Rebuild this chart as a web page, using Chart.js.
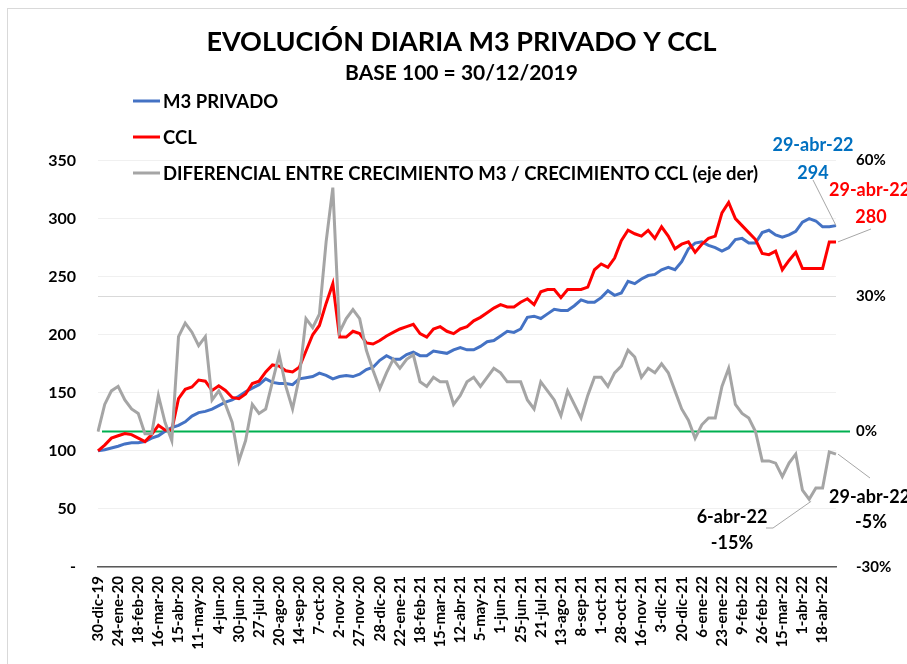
<!DOCTYPE html>
<html lang="es">
<head>
<meta charset="utf-8">
<title>Evolución diaria M3 privado y CCL</title>
<script src="https://cdn.jsdelivr.net/npm/chart.js@4.4.1/dist/chart.umd.min.js"></script>
<style>
    html, body { margin: 0; padding: 0; background: #ffffff; }
    #contenedor { position: relative; width: 907px; height: 664px; }
</style>
</head>
<body>
<div id="contenedor"><canvas id="graficoM3Ccl"></canvas></div>
<script>
// Fechas que se muestran en el eje X (una cada 3 puntos)
const fechasEje = [
    '30-dic-19', '24-ene-20', '18-feb-20', '16-mar-20', '15-abr-20', '11-may-20',
    '4-jun-20', '30-jun-20', '27-jul-20', '20-ago-20', '14-sep-20', '7-oct-20',
    '2-nov-20', '27-nov-20', '28-dic-20', '22-ene-21', '18-feb-21', '15-mar-21',
    '12-abr-21', '5-may-21', '1-jun-21', '25-jun-21', '21-jul-21', '13-ago-21',
    '8-sep-21', '1-oct-21', '28-oct-21', '16-nov-21', '3-dic-21', '20-dic-21',
    '6-ene-22', '23-ene-22', '9-feb-22', '26-feb-22', '15-mar-22', '1-abr-22',
    '18-abr-22'
];
const fechaFinal = '29-abr-22';
const fechaMinimo = '6-abr-22';

// Base 100 = 30/12/2019
const m3Privado = [
    100, 101, 102.5, 104, 106, 107, 107, 108, 111, 113,
    117, 120, 122, 125, 130, 133, 134, 136, 139, 142,
    144, 147, 151, 154, 157, 162, 159, 158, 158, 157,
    162, 163, 164, 167, 165, 162, 164, 165, 164, 166,
    170, 172, 178, 182, 179, 179, 183, 185, 182, 182,
    186, 185, 184, 187, 189, 187, 187, 190, 194, 195,
    199, 203, 202, 205, 215, 216, 214, 218, 222, 221,
    221, 225, 230, 228, 228, 232, 238, 234, 236, 246,
    244, 248, 251, 252, 256, 258, 256, 263, 274, 279,
    280, 277, 275, 272, 275, 282, 283, 279, 279, 288,
    290, 286, 284, 286, 289, 297, 300, 298, 293, 293,
    294
];

const ccl = [
    100, 105, 111, 113, 115, 114, 111, 108, 114, 122,
    118, 118, 145, 153, 155, 161, 160, 152, 156, 152,
    146, 145, 149, 158, 160, 168, 174, 173, 169, 168,
    172, 186, 200, 208, 227, 244, 198, 198, 203, 201,
    193, 192, 195, 199, 202, 205, 207, 209, 201, 198,
    205, 207, 203, 201, 205, 207, 212, 215, 219, 223,
    226, 224, 224, 228, 231, 226, 237, 239, 239, 232,
    239, 239, 239, 241, 256, 261, 258, 266, 281, 290,
    287, 285, 290, 283, 293, 285, 274, 278, 280, 271,
    278, 283, 285, 305, 314, 300, 294, 288, 282, 270,
    269, 272, 256, 264, 271, 257, 257, 257, 257, 280,
    280
];

// Diferencial (%), eje derecho
const diferencial = [
    0, 6, 9, 10, 7, 5, 4, -0.5, -0.5, 8,
    2, -2, 21, 24, 22, 19, 21, 7, 9, 6,
    2, -6.5, -2, 6, 4, 5, 11, 17, 10, 5,
    12, 25, 23, 26, 42, 54, 22, 25, 27, 25,
    18, 13.5, 9.5, 13, 16, 14, 16, 17, 11, 10,
    12, 11, 11, 6, 8, 11, 12, 10, 12, 14,
    13, 11, 11, 11, 7, 5, 11, 9, 7, 3.5,
    9, 6, 3, 8, 12, 12, 10, 13, 14.5, 18,
    16.5, 12, 14, 13, 15, 13, 9, 5, 2.5, -1.5,
    1.5, 3, 3, 10, 14, 6, 4, 3, 0, -6.5,
    -6.5, -7, -10, -7, -5, -13, -15, -12.5, -12.5, -4.5,
    -5
];

const colores = {
    m3: '#4472c4',
    ccl: '#ff0000',
    diferencial: '#a5a5a5',
    cero: '#00b050',
    azulTexto: '#0070c0',
    texto: '#000000',
    guia: '#a6a6a6'
};

const fuente = 'Lato';
const pasoEtiquetas = 3;

// Una etiqueta real cada 3 puntos, el resto vacias
const etiquetas = m3Privado.map((v, i) => {
    if (i % pasoEtiquetas === 0 && fechasEje[i / pasoEtiquetas]) return fechasEje[i / pasoEtiquetas];
    return '';
});

// Marco gris claro alrededor del grafico
const marco = {
    id: 'marco',
    beforeDraw(chart) {
        const ctx = chart.ctx;
        ctx.save();
        ctx.strokeStyle = '#d9d9d9';
        ctx.lineWidth = 1;
        ctx.strokeRect(7.5, 8.5, 1200, 1200);
        ctx.restore();
    }
};

// Linea verde del 0% en el eje derecho
const lineaCero = {
    id: 'lineaCero',
    beforeDatasetsDraw(chart) {
        const { ctx, chartArea, scales } = chart;
        const y = scales.y1.getPixelForValue(0);
        ctx.save();
        ctx.strokeStyle = colores.cero;
        ctx.lineWidth = 2;
        ctx.beginPath();
        ctx.moveTo(chartArea.left + 4, y);
        ctx.lineTo(chartArea.right + 14, y);
        ctx.stroke();
        ctx.restore();
    }
};

// Leyenda dibujada a mano (arriba a la izquierda, como en el original)
const leyendaManual = {
    id: 'leyendaManual',
    afterDraw(chart) {
        const ctx = chart.ctx;
        ctx.save();
        ctx.font = 'bold 18.5px ' + fuente;
        ctx.textBaseline = 'middle';
        ctx.textAlign = 'left';
        chart.data.datasets.forEach((ds, i) => {
            const y = 101 + i * 36;
            ctx.strokeStyle = ds.borderColor;
            ctx.lineWidth = 3;
            ctx.beginPath();
            ctx.moveTo(133, y);
            ctx.lineTo(160, y);
            ctx.stroke();
            ctx.fillStyle = colores.texto;
            ctx.fillText(ds.label, 163, y + 1);
        });
        ctx.restore();
    }
};

// Etiquetas de los ultimos valores y del minimo
const anotaciones = {
    id: 'anotaciones',
    afterDatasetsDraw(chart) {
        const { ctx, scales } = chart;
        const ultimo = m3Privado.length - 1;
        const xFin = scales.x.getPixelForValue(ultimo);
        const yM3 = scales.y.getPixelForValue(m3Privado[ultimo]);
        const yCcl = scales.y.getPixelForValue(ccl[ultimo]);
        const yDif = scales.y1.getPixelForValue(diferencial[ultimo]);
        const minimo = Math.min(...diferencial);
        const iMin = diferencial.indexOf(minimo);
        const xMin = scales.x.getPixelForValue(iMin);
        const yMin = scales.y1.getPixelForValue(minimo);

        function linea(x1, y1, x2, y2) {
            ctx.beginPath();
            ctx.moveTo(x1, y1);
            ctx.lineTo(x2, y2);
            ctx.stroke();
        }

        ctx.save();
        ctx.strokeStyle = colores.guia;
        ctx.lineWidth = 1;
        linea(813, 180, xFin, yM3);
        linea(871, 229, xFin + 2, yCcl);
        linea(870, 478, xFin + 2, yDif);
        linea(766, 528, 773, 528);
        linea(773, 528, xMin + 2, yMin + 2);

        ctx.font = 'bold 18px ' + fuente;
        ctx.textBaseline = 'middle';

        ctx.fillStyle = colores.azulTexto;
        ctx.textAlign = 'center';
        ctx.fillText(fechaFinal, 813, 145);
        ctx.fillText(String(Math.round(m3Privado[ultimo])), 813, 173);

        ctx.fillStyle = colores.ccl;
        ctx.textAlign = 'left';
        ctx.fillText(fechaFinal, 829, 190);
        ctx.textAlign = 'center';
        ctx.fillText(String(Math.round(ccl[ultimo])), 871, 217);

        ctx.fillStyle = colores.texto;
        ctx.textAlign = 'left';
        ctx.fillText(fechaFinal, 829, 497);
        ctx.textAlign = 'center';
        ctx.fillText(Math.round(diferencial[ultimo]) + '%', 871, 522);
        ctx.fillText(fechaMinimo, 732, 517);
        ctx.fillText(Math.round(minimo) + '%', 732, 543);
        ctx.restore();
    }
};

function renderGraficoM3Ccl() {
    const canvas = document.getElementById('graficoM3Ccl');
    if (!canvas) return;

    Chart.defaults.font.family = fuente;
    Chart.defaults.color = colores.texto;

    new Chart(canvas.getContext('2d'), {
        type: 'line',
        data: {
            labels: etiquetas,
            datasets: [{
                label: 'M3 PRIVADO',
                data: m3Privado,
                borderColor: colores.m3,
                borderWidth: 3,
                pointRadius: 0,
                tension: 0,
                yAxisID: 'y',
                order: 3
            }, {
                label: 'CCL',
                data: ccl,
                borderColor: colores.ccl,
                borderWidth: 3,
                pointRadius: 0,
                tension: 0,
                yAxisID: 'y',
                order: 2
            }, {
                label: 'DIFERENCIAL ENTRE CRECIMIENTO M3 / CRECIMIENTO CCL (eje der)',
                data: diferencial,
                borderColor: colores.diferencial,
                borderWidth: 3,
                pointRadius: 0,
                tension: 0,
                yAxisID: 'y1',
                order: 1
            }]
        },
        options: {
            responsive: true,
            maintainAspectRatio: false,
            animation: false,
            layout: {
                padding: { left: 16, right: 0, top: 0, bottom: 0 }
            },
            plugins: {
                legend: { display: false },
                tooltip: { enabled: false },
                title: {
                    display: true,
                    text: 'EVOLUCIÓN DIARIA M3 PRIVADO Y CCL',
                    color: colores.texto,
                    font: { size: 27, weight: 'bold' },
                    padding: { top: 26, bottom: 0 }
                },
                subtitle: {
                    display: true,
                    text: 'BASE 100 = 30/12/2019',
                    color: colores.texto,
                    font: { size: 21, weight: 'bold' },
                    padding: { top: 2, bottom: 75 }
                }
            },
            scales: {
                x: {
                    grid: { display: true, drawOnChartArea: false, drawTicks: false },
                    border: { color: '#595959', width: 1.5 },
                    ticks: {
                        autoSkip: false,
                        maxRotation: 90,
                        minRotation: 90,
                        padding: 9,
                        font: { size: 15, weight: 'bold' }
                    },
                    afterFit(scale) { scale.height = 97; }
                },
                y: {
                    position: 'left',
                    min: 0,
                    max: 350,
                    ticks: {
                        stepSize: 50,
                        padding: 22,
                        font: { size: 16, weight: 'bold' },
                        callback: function(value) {
                            return value === 0 ? '-' : value;
                        }
                    },
                    grid: { color: '#f0f0f0', drawTicks: false },
                    border: { display: false },
                    afterFit(scale) { scale.width = 82; }
                },
                y1: {
                    position: 'right',
                    min: -30,
                    max: 60,
                    ticks: {
                        stepSize: 30,
                        padding: 20,
                        font: { size: 15, weight: 'bold' },
                        callback: function(value) {
                            return value + '%';
                        }
                    },
                    grid: {
                        drawTicks: false,
                        color: function(context) {
                            return context.tick && context.tick.value === 30 ? '#d9d9d9' : 'rgba(0,0,0,0)';
                        }
                    },
                    border: { display: false },
                    afterFit(scale) { scale.width = 71; }
                }
            }
        },
        plugins: [marco, lineaCero, leyendaManual, anotaciones]
    });
}

document.addEventListener('DOMContentLoaded', function() {
    renderGraficoM3Ccl();
});
</script>
</body>
</html>
